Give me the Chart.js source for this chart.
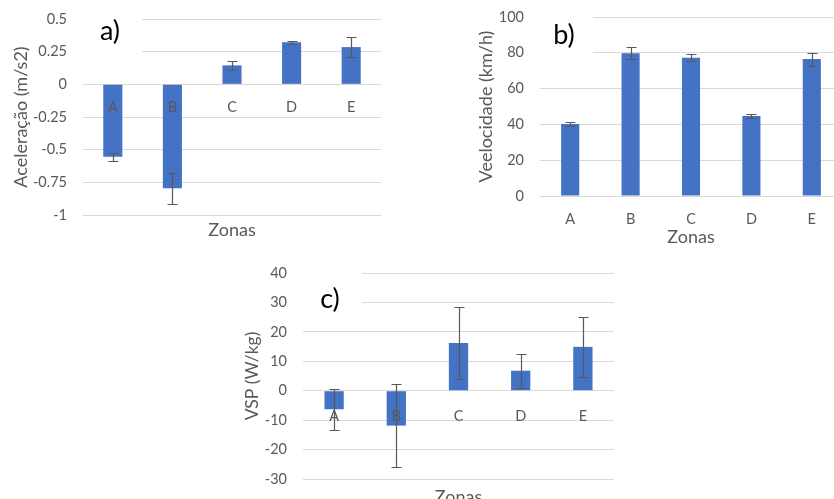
<!DOCTYPE html>
<html>
<head>
<meta charset="utf-8">
<script src="https://cdn.jsdelivr.net/npm/chart.js@4.4.0/dist/chart.umd.min.js"></script>
<style>
  html, body { margin: 0; padding: 0; background: #fff; width: 834px; height: 499px; overflow: hidden; }
  canvas { position: absolute; }
</style>
</head>
<body>
<canvas id="chart-a" width="400" height="250" style="left:0;top:0"></canvas>
<canvas id="chart-b" width="400" height="250" style="left:460px;top:0"></canvas>
<canvas id="chart-c" width="404" height="260" style="left:230px;top:255px"></canvas>
<script>
// zones on the x axis
const zonas = ['A', 'B', 'C', 'D', 'E'];

// a) acceleration (m/s2), mean and error
const aceleracao = [-0.555, -0.795, 0.145, 0.322, 0.285];
const aceleracaoErro = [0.03, 0.12, 0.033, 0.012, 0.075];

// b) speed (km/h)
const velocidade = [40.2, 79.8, 77.3, 44.75, 76.5];
const velocidadeErro = [1.0, 3.4, 2.0, 1.2, 3.6];

// c) VSP (W/kg)
const vsp = [-6.3, -11.85, 16.2, 6.8, 14.9];
const vspErro = [7.0, 14.15, 12.1, 5.75, 10.2];

const FONT = 'Lato';
const GREY = '#595959';
const GRID = '#d9d9d9';
const BLUE = '#4472C4';

/**
 * Panel extras: white box behind the panel letter, error bars,
 * the letter itself and the "Zonas" caption when the x axis sits at zero
 */
const panelExtras = {
  id: 'panelExtras',
  beforeDatasetsDraw(chart, args, opts) {
    if (!opts.maskRight) return;
    const { ctx, chartArea } = chart;
    ctx.save();
    ctx.fillStyle = '#fff';
    ctx.fillRect(chartArea.left - 1, 0, opts.maskRight - chartArea.left + 1, opts.maskBottom);
    ctx.restore();
  },
  afterDraw(chart, args, opts) {
    const { ctx } = chart;
    const ds = chart.data.datasets[0];
    const meta = chart.getDatasetMeta(0);
    const y = chart.scales.y;

    // error bars
    ctx.save();
    ctx.strokeStyle = GREY;
    ctx.lineWidth = 1.2;
    meta.data.forEach((bar, i) => {
      const v = ds.data[i];
      const e = ds.errors[i];
      const hi = Math.round(y.getPixelForValue(v + e)) + 0.5;
      const lo = Math.round(y.getPixelForValue(v - e)) + 0.5;
      const cx = Math.round(bar.x) + 0.5;
      ctx.beginPath();
      ctx.moveTo(cx, hi); ctx.lineTo(cx, lo);
      ctx.moveTo(cx - 5, hi); ctx.lineTo(cx + 5, hi);
      ctx.moveTo(cx - 5, lo); ctx.lineTo(cx + 5, lo);
      ctx.stroke();
    });

    // panel letter
    ctx.fillStyle = '#000';
    ctx.font = `${opts.letterSize}px ${FONT}`;
    ctx.textAlign = 'center';
    ctx.textBaseline = 'middle';
    ctx.fillText(opts.letter, opts.letterX, opts.letterY);

    // x caption for panels whose axis is drawn at zero
    if (opts.caption) {
      const { left, right } = chart.chartArea;
      ctx.fillStyle = GREY;
      ctx.font = `18px ${FONT}`;
      ctx.textBaseline = 'alphabetic';
      ctx.fillText(opts.caption, (left + right) / 2, opts.captionY);
    }
    ctx.restore();
  }
};

function tickText(v) {
  return String(Math.round(v * 100) / 100);
}

function makePanel(id, cfg) {
  const xScale = cfg.xAtZero
    ? {
        position: { y: 0 },
        grid: { display: false },
        border: { display: false },
        ticks: { padding: cfg.xPad, color: GREY, font: { family: FONT, size: 14.5 }, z: 1 }
      }
    : {
        position: 'bottom',
        grid: { display: false },
        border: { display: false },
        ticks: { padding: cfg.xPad, color: GREY, font: { family: FONT, size: 14.5 } },
        title: { display: true, text: 'Zonas', color: GREY, font: { family: FONT, size: 18 }, padding: { top: 0, bottom: 2 } },
        afterFit: s => { s.height = cfg.xHeight; }
      };

  return new Chart(document.getElementById(id), {
    type: 'bar',
    data: {
      labels: zonas,
      datasets: [{
        data: cfg.values,
        errors: cfg.errors,
        backgroundColor: BLUE,
        borderWidth: 0,
        barPercentage: cfg.barPct,
        categoryPercentage: 1
      }]
    },
    options: {
      responsive: false,
      animation: false,
      layout: { padding: cfg.padding },
      plugins: {
        legend: { display: false },
        tooltip: { enabled: false },
        panelExtras: {
          letter: cfg.letter,
          letterX: cfg.letterX,
          letterY: cfg.letterY,
          letterSize: 27,
          maskRight: cfg.maskRight,
          maskBottom: cfg.maskBottom,
          caption: cfg.xAtZero ? 'Zonas' : null,
          captionY: cfg.captionY
        }
      },
      scales: {
        x: xScale,
        y: {
          min: cfg.min,
          max: cfg.max,
          ticks: { stepSize: cfg.step, padding: 0, color: GREY, font: { family: FONT, size: 14.5 }, callback: tickText },
          // invisible tick marks give the gap between labels and plot
          grid: { color: GRID, drawTicks: true, tickLength: 16, tickColor: 'rgba(0,0,0,0)' },
          border: { display: false },
          title: { display: true, text: cfg.yTitle, color: GREY, font: { family: FONT, size: cfg.yTitleSize }, padding: { top: cfg.yTitlePad, bottom: 0 } },
          afterFit: s => { s.width = cfg.yWidth; }
        }
      }
    },
    plugins: [panelExtras]
  });
}

makePanel('chart-a', {
  values: aceleracao, errors: aceleracaoErro,
  min: -1, max: 0.5, step: 0.25,
  yTitle: 'Aceleração (m/s2)', yTitleSize: 18, yTitlePad: 10, yWidth: 83,
  padding: { left: 0, top: 19, right: 19, bottom: 35 },
  xAtZero: true, xPad: 6, captionY: 236,
  barPct: 0.32,
  letter: 'a)', letterX: 110, letterY: 31, maskRight: 142, maskBottom: 60
});

makePanel('chart-b', {
  values: velocidade, errors: velocidadeErro,
  min: 0, max: 100, step: 20,
  yTitle: 'Veelocidade (km/h)', yTitleSize: 18, yTitlePad: 15, yWidth: 80,
  padding: { left: 0, top: 17, right: 18, bottom: 0 },
  xAtZero: false, xPad: 7, xHeight: 54,
  barPct: 0.30,
  letter: 'b)', letterX: 104, letterY: 35, maskRight: 133, maskBottom: 65
});

makePanel('chart-c', {
  values: vsp, errors: vspErro,
  min: -30, max: 40, step: 10,
  yTitle: 'VSP (W/kg)', yTitleSize: 17.5, yTitlePad: 12, yWidth: 73,
  padding: { left: 0, top: 18, right: 20, bottom: 36 },
  xAtZero: true, xPad: 9, captionY: 248,
  barPct: 0.31,
  letter: 'c)', letterX: 100, letterY: 44, maskRight: 132, maskBottom: 62
});
</script>
</body>
</html>
